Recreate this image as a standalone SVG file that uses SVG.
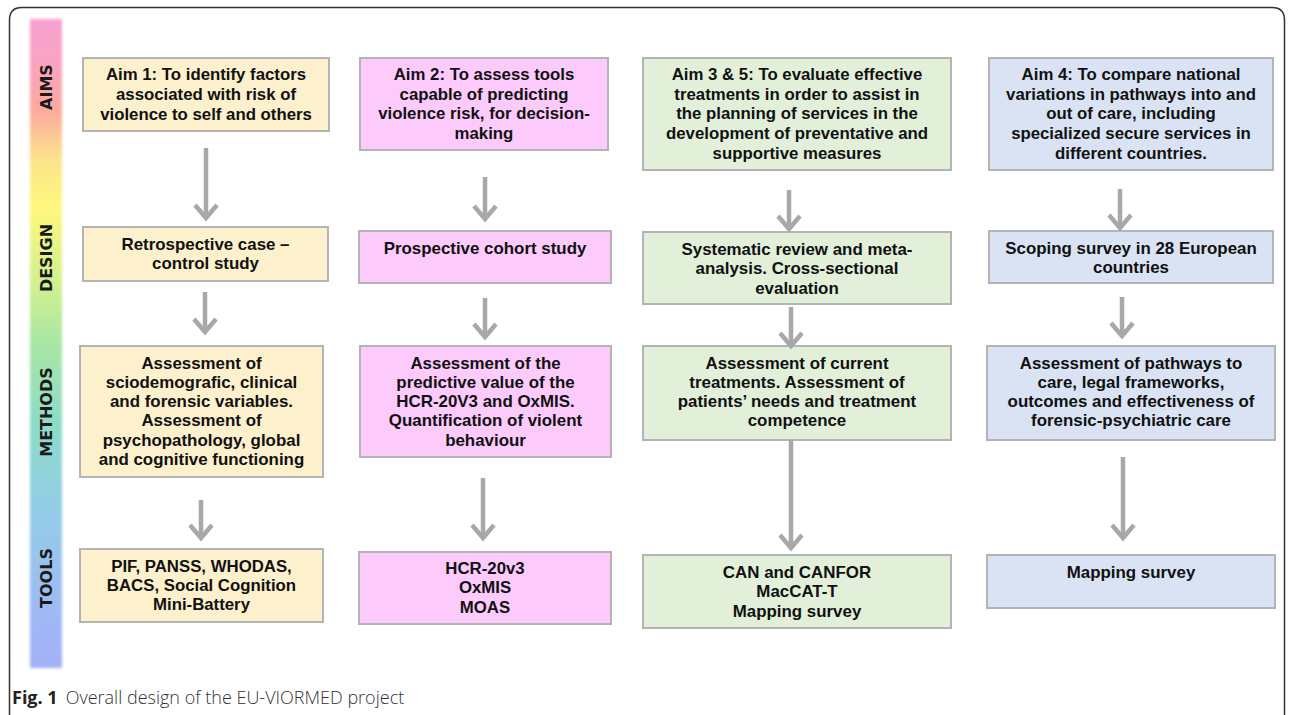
<svg xmlns="http://www.w3.org/2000/svg" width="1292" height="715" viewBox="0 0 1292 715">
<style>
.box{stroke:#b4b4b4;stroke-width:2}
.y{fill:#fdf0cd}.p{fill:#fccbfc}.g{fill:#e2efd9}.b{fill:#dae3f3}
.ta{font-family:"Liberation Sans",Arial,sans-serif;font-weight:700;font-size:16.8px;fill:#111;text-anchor:middle}
.tm{font-family:"Liberation Sans",Arial,sans-serif;font-weight:700;font-size:16.9px;fill:#111;text-anchor:middle}
.lab{font-family:"DejaVu Sans",sans-serif;font-weight:700;font-size:16px;fill:#1a1a1a;text-anchor:middle}
.cap{font-family:"Open Sans",sans-serif;font-size:18px;fill:#333}
.sh{stroke:#a8a8a8;stroke-width:4.5;fill:none}
.hd{stroke:#a8a8a8;stroke-width:4.5;fill:none;stroke-linejoin:miter;stroke-linecap:butt}
</style>
<defs>
<linearGradient id="rb" x1="0" y1="0" x2="0" y2="1">
<stop offset="0" stop-color="#f7a0d0"/>
<stop offset="0.06" stop-color="#f9a3c4"/>
<stop offset="0.14" stop-color="#fca99f"/>
<stop offset="0.22" stop-color="#fde58a"/>
<stop offset="0.29" stop-color="#fef77e"/>
<stop offset="0.40" stop-color="#d5f18e"/>
<stop offset="0.50" stop-color="#a8e6a4"/>
<stop offset="0.62" stop-color="#8ddcc6"/>
<stop offset="0.76" stop-color="#93cce7"/>
<stop offset="0.89" stop-color="#9dbcf3"/>
<stop offset="1" stop-color="#a3b0f8"/>
</linearGradient>
<filter id="soft" x="-20%" y="-5%" width="140%" height="110%"><feGaussianBlur stdDeviation="1.5"/></filter>
</defs>
<rect width="1292" height="715" fill="#fff"/>
<path d="M9.5 715 V20 Q9.5 7.5 22 7.5 H1272 Q1284.5 7.5 1284.5 20 V715" fill="none" stroke="#333" stroke-width="1.5"/>
<g id="sidebar">
<rect x="30" y="19" width="32" height="649" fill="url(#rb)" filter="url(#soft)"/>
<text class="lab" transform="translate(52,87) rotate(-90)">AIMS</text>
<text class="lab" transform="translate(52,258) rotate(-90)">DESIGN</text>
<text class="lab" transform="translate(52,412) rotate(-90)">METHODS</text>
<text class="lab" transform="translate(52,578) rotate(-90)">TOOLS</text>
</g>
<g id="aim1"><rect class="box y" x="83" y="58" width="246" height="73"/>
<text class="ta"><tspan x="206" y="80.3">Aim 1: To identify factors</tspan><tspan x="206" y="100">associated with risk of</tspan><tspan x="206" y="119.7">violence to self and others</tspan></text></g>
<g id="aim2"><rect class="box p" x="360" y="58" width="248" height="92"/>
<text class="ta"><tspan x="484" y="80">Aim 2: To assess tools</tspan><tspan x="484" y="99.7">capable of predicting</tspan><tspan x="484" y="119.4">violence risk, for decision-</tspan><tspan x="484" y="139.1">making</tspan></text></g>
<g id="aim35"><rect class="box g" x="643" y="58" width="308" height="112"/>
<text class="ta"><tspan x="797" y="80">Aim 3 &amp; 5: To evaluate effective</tspan><tspan x="797" y="99.7">treatments in order to assist in</tspan><tspan x="797" y="119.4">the planning of services in the</tspan><tspan x="797" y="139.1">development of preventative and</tspan><tspan x="797" y="158.8">supportive measures</tspan></text></g>
<g id="aim4"><rect class="box b" x="989" y="58" width="284" height="112"/>
<text class="ta"><tspan x="1131" y="80">Aim 4: To compare national</tspan><tspan x="1131" y="99.7">variations in pathways into and</tspan><tspan x="1131" y="119.4">out of care, including</tspan><tspan x="1131" y="139.1">specialized secure services in</tspan><tspan x="1131" y="158.8">different countries.</tspan></text></g>
<g id="design1"><rect class="box y" x="83" y="227" width="245" height="54"/>
<text class="tm"><tspan x="205.5" y="250">Retrospective case –</tspan><tspan x="205.5" y="269.3">control study</tspan></text></g>
<g id="design2"><rect class="box p" x="359" y="231" width="252" height="52"/>
<text class="tm"><tspan x="485" y="253.5">Prospective cohort study</tspan></text></g>
<g id="design3"><rect class="box g" x="643" y="232" width="308" height="72"/>
<text class="tm"><tspan x="797" y="255">Systematic review and meta-</tspan><tspan x="797" y="274.3">analysis. Cross-sectional</tspan><tspan x="797" y="293.6">evaluation</tspan></text></g>
<g id="design4"><rect class="box b" x="989" y="231" width="284" height="52"/>
<text class="tm"><tspan x="1131" y="253.5">Scoping survey in 28 European</tspan><tspan x="1131" y="272.8">countries</tspan></text></g>
<g id="methods1"><rect class="box y" x="80" y="346" width="243" height="131"/>
<text class="tm"><tspan x="201.5" y="368.5">Assessment of</tspan><tspan x="201.5" y="387.8">sciodemografic, clinical</tspan><tspan x="201.5" y="407.1">and forensic variables.</tspan><tspan x="201.5" y="426.4">Assessment of</tspan><tspan x="201.5" y="445.7">psychopathology, global</tspan><tspan x="201.5" y="465">and cognitive functioning</tspan></text></g>
<g id="methods2"><rect class="box p" x="360" y="346" width="251" height="111"/>
<text class="tm"><tspan x="485.5" y="368.5">Assessment of the</tspan><tspan x="485.5" y="387.8">predictive value of the</tspan><tspan x="485.5" y="407.1">HCR-20V3 and OxMIS.</tspan><tspan x="485.5" y="426.4">Quantification of violent</tspan><tspan x="485.5" y="445.7">behaviour</tspan></text></g>
<g id="methods3"><rect class="box g" x="643" y="346" width="308" height="94"/>
<text class="tm"><tspan x="797" y="368.5">Assessment of current</tspan><tspan x="797" y="387.8">treatments. Assessment of</tspan><tspan x="797" y="407.1">patients’ needs and treatment</tspan><tspan x="797" y="426.4">competence</tspan></text></g>
<g id="methods4"><rect class="box b" x="987" y="346" width="288" height="94"/>
<text class="tm"><tspan x="1131" y="368.5">Assessment of pathways to</tspan><tspan x="1131" y="387.8">care, legal frameworks,</tspan><tspan x="1131" y="407.1">outcomes and effectiveness of</tspan><tspan x="1131" y="426.4">forensic-psychiatric care</tspan></text></g>
<g id="tools1"><rect class="box y" x="80" y="549" width="243" height="73"/>
<text class="ta"><tspan x="201.5" y="571.7">PIF, PANSS, WHODAS,</tspan><tspan x="201.5" y="591">BACS, Social Cognition</tspan><tspan x="201.5" y="610.3">Mini-Battery</tspan></text></g>
<g id="tools2"><rect class="box p" x="359" y="552" width="252" height="72"/>
<text class="ta"><tspan x="485" y="574">HCR-20v3</tspan><tspan x="485" y="593.3">OxMIS</tspan><tspan x="485" y="612.6">MOAS</tspan></text></g>
<g id="tools3"><rect class="box g" x="643" y="555" width="308" height="73"/>
<text class="tm"><tspan x="797" y="578">CAN and CANFOR</tspan><tspan x="797" y="597.3">MacCAT-T</tspan><tspan x="797" y="616.6">Mapping survey</tspan></text></g>
<g id="tools4"><rect class="box b" x="987" y="555" width="288" height="53"/>
<text class="tm"><tspan x="1131" y="578">Mapping survey</tspan></text></g>
<g id="connectors">
<path class="sh" d="M206 148V216M205 292V330M201 500V536M485 177V217M485 298V335M483 478V536M789 190V227M791 307V344M791 440V546M1120 189V226M1122 297V334M1123 457V536"/>
<path class="hd" d="M195 205L206 218L217 205M194 319L205 332L216 319M190 525L201 538L212 525M474 206L485 219L496 206M474 324L485 337L496 324M472 525L483 538L494 525M778 216L789 229L800 216M780 333L791 346L802 333M780 535L791 548L802 535M1109 215L1120 228L1131 215M1111 323L1122 336L1133 323M1112 525L1123 538L1134 525"/>
</g>
<g id="caption">
<text class="cap" x="12" y="704"><tspan font-weight="700" fill="#222">Fig. 1</tspan><tspan dx="8" font-weight="300">Overall design of the EU-VIORMED project</tspan></text>
</g>
</svg>
